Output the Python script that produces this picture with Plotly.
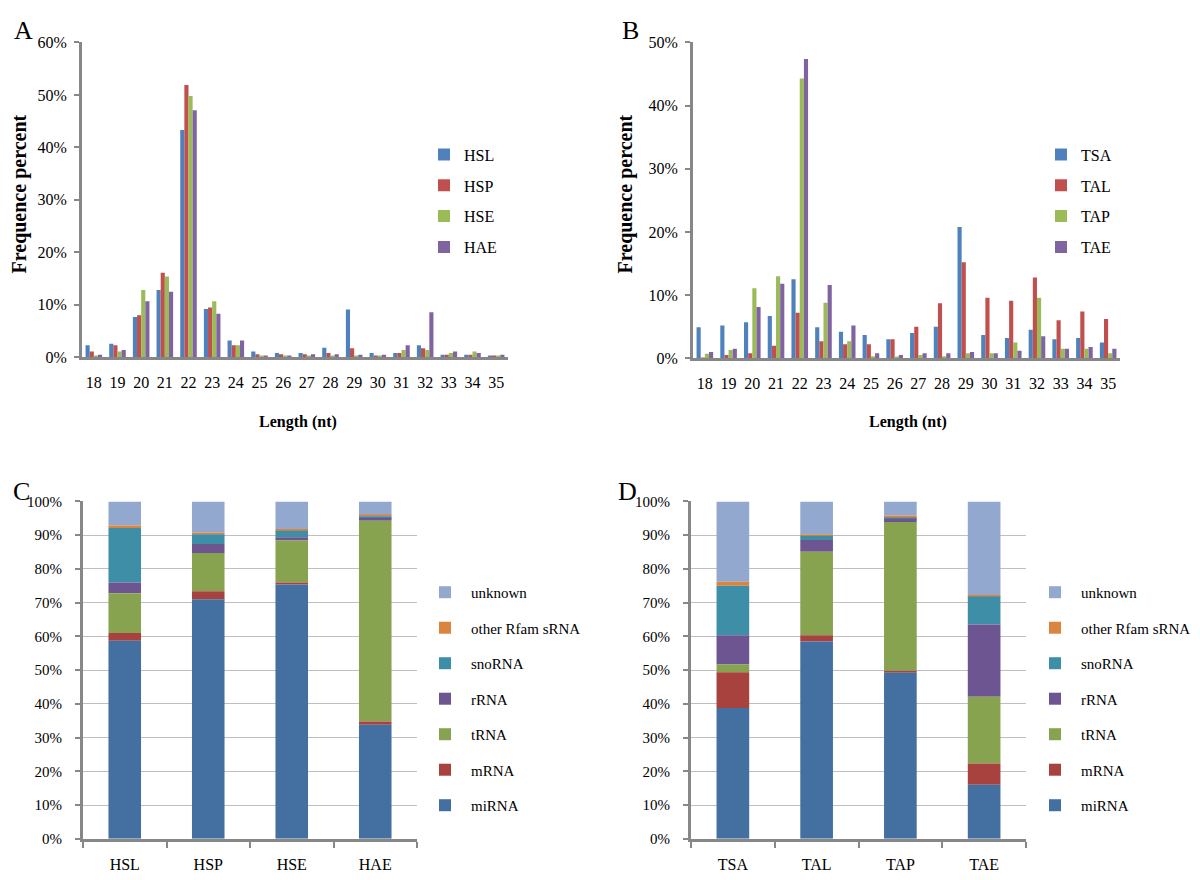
import plotly.graph_objects as go

# ---------------- data ----------------
lengths = ["18", "19", "20", "21", "22", "23", "24", "25", "26", "27",
           "28", "29", "30", "31", "32", "33", "34", "35"]

HSL = [2.3, 2.6, 7.7, 12.8, 43.3, 9.2, 3.2, 1.1, 0.8, 0.8, 1.8, 9.1, 0.8, 0.8, 2.3, 0.5, 0.5, 0.3]
HSP = [1.1, 2.3, 8.0, 16.1, 51.9, 9.5, 2.3, 0.6, 0.6, 0.6, 0.8, 1.7, 0.2, 0.8, 1.7, 0.5, 0.5, 0.3]
HSE = [0.2, 1.1, 12.8, 15.4, 49.8, 10.7, 2.3, 0.2, 0.2, 0.2, 0.2, 0.2, 0.2, 1.4, 1.4, 0.8, 1.1, 0.3]
HAE = [0.5, 1.4, 10.7, 12.5, 47.1, 8.3, 3.2, 0.2, 0.2, 0.6, 0.6, 0.5, 0.5, 2.3, 8.6, 1.1, 0.8, 0.5]

TSA = [4.9, 5.2, 5.7, 6.7, 12.5, 4.9, 4.2, 3.7, 3.0, 4.0, 5.0, 20.8, 3.7, 3.2, 4.5, 3.0, 3.2, 2.5]
TAL = [0.1, 0.5, 0.8, 2.0, 7.2, 2.7, 2.2, 2.2, 3.0, 5.0, 8.7, 15.2, 9.6, 9.1, 12.8, 6.0, 7.4, 6.2]
TAP = [0.7, 1.3, 11.1, 13.0, 44.3, 8.8, 2.7, 0.3, 0.2, 0.5, 0.3, 0.8, 0.8, 2.5, 9.6, 1.5, 1.5, 0.8]
TAE = [1.0, 1.5, 8.1, 11.8, 47.4, 11.6, 5.2, 0.8, 0.5, 0.8, 0.8, 1.0, 0.8, 1.2, 3.5, 1.5, 1.8, 1.5]

samples_C = ["HSL", "HSP", "HSE", "HAE"]
samples_D = ["TSA", "TAL", "TAP", "TAE"]
rna_classes = ["miRNA", "mRNA", "tRNA", "rRNA", "snoRNA", "other Rfam sRNA", "unknown"]

miRNA_C = [58.7, 71.0, 75.4, 33.8]
mRNA_C = [2.3, 2.4, 0.6, 1.0]
tRNA_C = [11.8, 11.3, 12.4, 59.5]
rRNA_C = [3.2, 2.7, 1.0, 0.9]
snoRNA_C = [16.1, 2.9, 1.9, 0.4]
other_C = [0.8, 0.5, 0.5, 0.4]
unknown_C = [7.1, 9.2, 8.2, 4.0]

miRNA_D = [38.8, 58.5, 49.2, 16.0]
mRNA_D = [10.6, 1.8, 0.6, 6.3]
tRNA_D = [2.3, 24.8, 44.1, 19.8]
rRNA_D = [8.6, 3.5, 1.0, 21.4]
snoRNA_D = [14.7, 1.2, 0.2, 8.3]
other_D = [1.2, 0.5, 0.7, 0.5]
unknown_D = [23.8, 9.7, 4.2, 27.7]

# ---------------- styling ----------------
W, H = 1200, 880
FONT = "Liberation Serif, Times New Roman, serif"
AXC = "#878787"
GRID = "#BFBFBF"
len_colors = ["#4F81BD", "#C0504D", "#9BBB59", "#8064A2"]
rna_colors = ["#436FA1", "#A7423F", "#87A34F", "#6D5592", "#3F8EA8", "#DA843D", "#93A8CE"]


def fx(p):
    return p / W


def fy(p):
    return 1 - p / H


def px_x(a, b):
    return [fx(a), fx(b)]


def px_y(top, bottom):
    return [fy(bottom), fy(top)]


fig = go.Figure()

# grouped length distributions (A, B)
group_w = 0.7
for names, series, ax, leg in [
        (["HSL", "HSP", "HSE", "HAE"], [HSL, HSP, HSE, HAE], "", "legend"),
        (["TSA", "TAL", "TAP", "TAE"], [TSA, TAL, TAP, TAE], "2", "legend2")]:
    n = len(series)
    bw = group_w / n
    for i, (nm, vals) in enumerate(zip(names, series)):
        fig.add_trace(go.Bar(
            x=lengths, y=[v / 100 for v in vals], name=nm,
            width=bw, offset=-group_w / 2 + i * bw,
            marker=dict(color=len_colors[i], line=dict(width=0)),
            xaxis="x" + ax, yaxis="y" + ax, legend=leg, legendgroup=leg + nm,
        ))

# stacked composition (C, D): compute bases, then add top class first so the
# legend lists "unknown" at the top
for samples, comps, ax, leg in [
        (samples_C, [miRNA_C, mRNA_C, tRNA_C, rRNA_C, snoRNA_C, other_C, unknown_C], "3", "legend3"),
        (samples_D, [miRNA_D, mRNA_D, tRNA_D, rRNA_D, snoRNA_D, other_D, unknown_D], "4", "legend4")]:
    bases = []
    base = [0.0] * len(samples)
    for vals in comps:
        bases.append(list(base))
        base = [b + v / 100 for b, v in zip(base, vals)]
    for i in reversed(range(len(rna_classes))):
        fig.add_trace(go.Bar(
            x=samples, y=[v / 100 for v in comps[i]], base=bases[i],
            name=rna_classes[i], width=0.39,
            marker=dict(color=rna_colors[i], line=dict(width=0)),
            xaxis="x" + ax, yaxis="y" + ax, legend=leg,
            legendgroup=leg + rna_classes[i],
        ))


def tf(size):
    return dict(family=FONT, size=size, color="black")


def xcat(domain, anchor, boxed):
    d = dict(domain=domain, anchor=anchor, type="category", showline=True,
             linecolor=AXC, linewidth=3, showgrid=False, tickfont=tf(16),
             fixedrange=True)
    if boxed:
        d.update(ticks="outside", tickson="boundaries", ticklen=6, tickwidth=2,
                 tickcolor=AXC, ticklabelstandoff=9)
    else:
        d.update(ticks="", ticklabelstandoff=9)
    return d


def yperc(domain, anchor, top, grid, size, standoff):
    return dict(domain=domain, anchor=anchor, range=[0, top], dtick=0.1,
                tickformat=".0%", showline=True, linecolor=AXC, linewidth=3,
                ticks="outside", ticklen=5, tickwidth=2, tickcolor=AXC,
                showgrid=grid, gridcolor=GRID, gridwidth=1, zeroline=False,
                tickfont=tf(size), ticklabelstandoff=standoff, fixedrange=True)


def legend_at(x_px, y_px, gap, iw, size):
    return dict(x=fx(x_px), y=fy(y_px), xanchor="left", yanchor="top",
                font=tf(size), bgcolor="rgba(0,0,0,0)", tracegroupgap=gap,
                traceorder="grouped", itemwidth=iw, itemclick=False,
                itemdoubleclick=False)


fig.update_layout(
    width=W, height=H, margin=dict(l=0, r=0, t=0, b=0),
    paper_bgcolor="white", plot_bgcolor="white",
    barmode="overlay", showlegend=True,
    font=dict(family=FONT, color="black"),
    xaxis=xcat(px_x(74, 500), "y", False),
    yaxis=yperc(px_y(27, 348), "x", 0.6, False, 16, 4),
    xaxis2=xcat(px_x(685, 1112), "y2", False),
    yaxis2=yperc(px_y(27, 349), "x2", 0.5, False, 16, 4),
    xaxis3=xcat(px_x(75, 409), "y3", True),
    yaxis3=yperc(px_y(495, 839), "x3", 1.0, True, 15, 10),
    xaxis4=xcat(px_x(683, 1018), "y4", True),
    yaxis4=yperc(px_y(495, 839), "x4", 1.0, True, 15, 10),
    legend=legend_at(416, 124, 7, 30, 16),
    legend2=legend_at(1033, 124, 7, 30, 16),
    legend3=legend_at(411, 571, 13, 42, 15),
    legend4=legend_at(1021, 571, 13, 42, 15),
)

ann = []
for txt, x, y in [("A", 15, 15), ("B", 622, 15), ("C", 13, 485), ("D", 619, 485)]:
    ann.append(dict(text=txt, x=fx(x), y=fy(y), xref="paper", yref="paper",
                    xanchor="center", yanchor="middle", showarrow=False,
                    font=tf(26)))
for x, y in [(290, 414), (900, 414)]:
    ann.append(dict(text="<b>Length (nt)</b>", x=fx(x), y=fy(y), xref="paper",
                    yref="paper", xanchor="center", yanchor="middle",
                    showarrow=False, font=tf(16)))
for x, y in [(11, 182), (617, 182)]:
    ann.append(dict(text="<b>Frequence percent</b>", x=fx(x), y=fy(y),
                    xref="paper", yref="paper", xanchor="center", yanchor="middle",
                    showarrow=False, textangle=-90, font=tf(20)))
fig.update_layout(annotations=ann)

fig.write_html("out.html", config={"displayModeBar": False})
